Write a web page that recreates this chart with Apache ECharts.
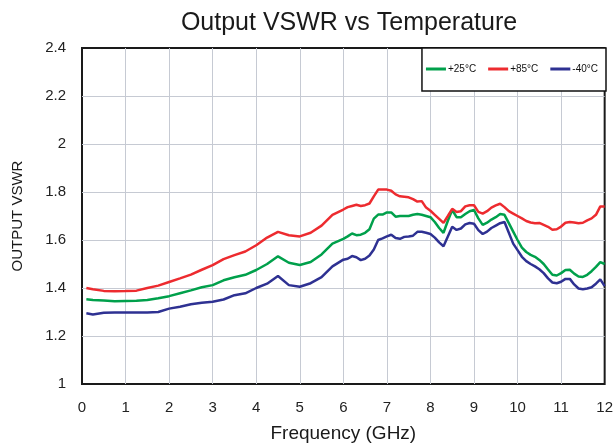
<!DOCTYPE html>
<html>
<head>
<meta charset="utf-8">
<script src="https://cdn.jsdelivr.net/npm/echarts@6/dist/echarts.min.js"></script>
<style>
  html, body { margin: 0; padding: 0; background: #fff; }
  #chart { width: 616px; height: 448px; }
</style>
</head>
<body>
<div id="chart"></div>
<script>
// frequency points (GHz)
const freq = [
  0.1, 0.25, 0.5, 0.75, 1, 1.25, 1.5, 1.75, 2, 2.25, 2.5, 2.75, 3, 3.25, 3.5, 3.75,
  4, 4.25, 4.5, 4.75, 5, 5.25, 5.5, 5.75, 6,
  6.1, 6.2, 6.3, 6.4, 6.5, 6.6, 6.7, 6.8, 6.9, 7, 7.1, 7.2, 7.3, 7.4, 7.5, 7.6, 7.7, 7.8, 7.9,
  8, 8.1, 8.2, 8.3, 8.4, 8.5, 8.6, 8.7, 8.8, 8.9, 9, 9.1, 9.2, 9.3, 9.4, 9.5, 9.6, 9.7, 9.8, 9.9,
  10, 10.1, 10.2, 10.3, 10.4, 10.5, 10.6, 10.7, 10.8, 10.9, 11, 11.1, 11.2, 11.3, 11.4, 11.5,
  11.6, 11.7, 11.8, 11.9, 12
]

// VSWR at +25°C
const vswr25 = [
  1.353, 1.350, 1.348, 1.345, 1.346, 1.347, 1.350, 1.357, 1.366, 1.378, 1.390, 1.403, 1.412, 1.432, 1.445, 1.455,
  1.475, 1.500, 1.532, 1.505, 1.496, 1.508, 1.540, 1.585, 1.605,
  1.615, 1.627, 1.620, 1.622, 1.630, 1.645, 1.689, 1.706, 1.706, 1.715, 1.715, 1.697, 1.700, 1.700, 1.700, 1.705, 1.708, 1.705, 1.700,
  1.695, 1.675, 1.650, 1.630, 1.680, 1.725, 1.695, 1.695, 1.708, 1.720, 1.725, 1.690, 1.663, 1.672, 1.685, 1.695, 1.708, 1.705, 1.670, 1.635,
  1.600, 1.568, 1.550, 1.538, 1.530, 1.517, 1.500, 1.477, 1.455, 1.452, 1.462, 1.475, 1.476, 1.460, 1.448, 1.446,
  1.455, 1.470, 1.488, 1.508, 1.500
]

// VSWR at +85°C
const vswr85 = [
  1.400, 1.395, 1.388, 1.386, 1.387, 1.389, 1.400, 1.410, 1.425, 1.440, 1.456, 1.476, 1.495, 1.520, 1.537, 1.552,
  1.578, 1.610, 1.634, 1.620, 1.615, 1.630, 1.660, 1.705, 1.727,
  1.737, 1.742, 1.747, 1.742, 1.745, 1.752, 1.782, 1.810, 1.810, 1.810, 1.805, 1.790, 1.782, 1.780, 1.778, 1.770, 1.760, 1.762, 1.735,
  1.722, 1.705, 1.688, 1.671, 1.700, 1.730, 1.717, 1.720, 1.740, 1.745, 1.745, 1.717, 1.710, 1.720, 1.735, 1.744, 1.751, 1.737, 1.720, 1.710,
  1.700, 1.690, 1.679, 1.673, 1.670, 1.671, 1.663, 1.655, 1.643, 1.645, 1.656, 1.672, 1.675, 1.673, 1.670, 1.672,
  1.682, 1.690, 1.705, 1.740, 1.740
]

// VSWR at -40°C
const vswrM40 = [
  1.295, 1.290, 1.297, 1.298, 1.298, 1.298, 1.298, 1.300, 1.314, 1.322, 1.332, 1.339, 1.343, 1.352, 1.370, 1.378,
  1.400, 1.418, 1.450, 1.412, 1.405, 1.420, 1.445, 1.490, 1.518,
  1.522, 1.533, 1.528, 1.516, 1.522, 1.535, 1.560, 1.600, 1.607, 1.615, 1.622, 1.608, 1.605, 1.613, 1.615, 1.618, 1.634, 1.634, 1.630,
  1.625, 1.610, 1.590, 1.574, 1.615, 1.655, 1.642, 1.648, 1.665, 1.671, 1.668, 1.641, 1.625, 1.635, 1.650, 1.660, 1.670, 1.675, 1.630, 1.585,
  1.558, 1.530, 1.512, 1.500, 1.490, 1.478, 1.462, 1.440, 1.423, 1.420, 1.426, 1.438, 1.438, 1.415, 1.398, 1.395,
  1.398, 1.403, 1.418, 1.436, 1.408
]

const seriesNames = ['+25°C', '+85°C', '-40°C']
const seriesColors = ['#00a04b', '#ed2b2f', '#2e3192']
const seriesValues = [vswr25, vswr85, vswrM40]

const chart = echarts.init(document.getElementById('chart'))
const font = 'Arial, "Liberation Sans", sans-serif'

const gridLine = { show: true, showMinLine: false, showMaxLine: false, lineStyle: { color: '#c6cad3', width: 1 } }

const option = {
  animation: false,
  textStyle: { fontFamily: font },
  title: {
    text: 'Output VSWR vs Temperature',
    left: 344,
    top: 6,
    textAlign: 'center',
    textStyle: { fontSize: 25, fontWeight: 'normal', color: '#1a1a1a', fontFamily: font }
  },
  legend: {
    data: seriesNames,
    right: 10,
    top: 48,
    padding: [16, 8, 17, 4],
    itemGap: 12,
    itemWidth: 20,
    itemHeight: 3,
    icon: 'rect',
    backgroundColor: '#fff',
    borderColor: '#111',
    borderWidth: 1.5,
    borderRadius: 0,
    textStyle: { fontSize: 10, color: '#111', padding: [0, 0, 0, -3] }
  },
  grid: {
    left: 82,
    right: 10,
    top: 48,
    bottom: 63,
    show: true,
    borderColor: '#1a1a1a',
    borderWidth: 2
  },
  xAxis: {
    type: 'value',
    min: 0,
    max: 12,
    interval: 1,
    name: 'Frequency (GHz)',
    nameLocation: 'middle',
    nameGap: 40,
    nameTextStyle: { fontSize: 19, color: '#1a1a1a' },
    axisLine: { show: false },
    axisTick: { show: false },
    axisLabel: { fontSize: 15, color: '#222', margin: 16 },
    splitLine: gridLine
  },
  yAxis: {
    type: 'value',
    min: 1,
    max: 2.4,
    interval: 0.2,
    name: 'OUTPUT VSWR',
    nameLocation: 'middle',
    nameGap: 57,
    nameTextStyle: { fontSize: 15, color: '#1a1a1a' },
    axisLine: { show: false },
    axisTick: { show: false },
    axisLabel: { fontSize: 15, color: '#222', margin: 16 },
    splitLine: gridLine
  },
  series: seriesNames.map((name, i) => ({
    name: name,
    type: 'line',
    showSymbol: false,
    symbol: 'none',
    color: seriesColors[i],
    lineStyle: { width: 2.5, color: seriesColors[i] },
    data: freq.map((f, j) => [f, seriesValues[i][j]])
  }))
}

chart.setOption(option)
</script>
</body>
</html>
